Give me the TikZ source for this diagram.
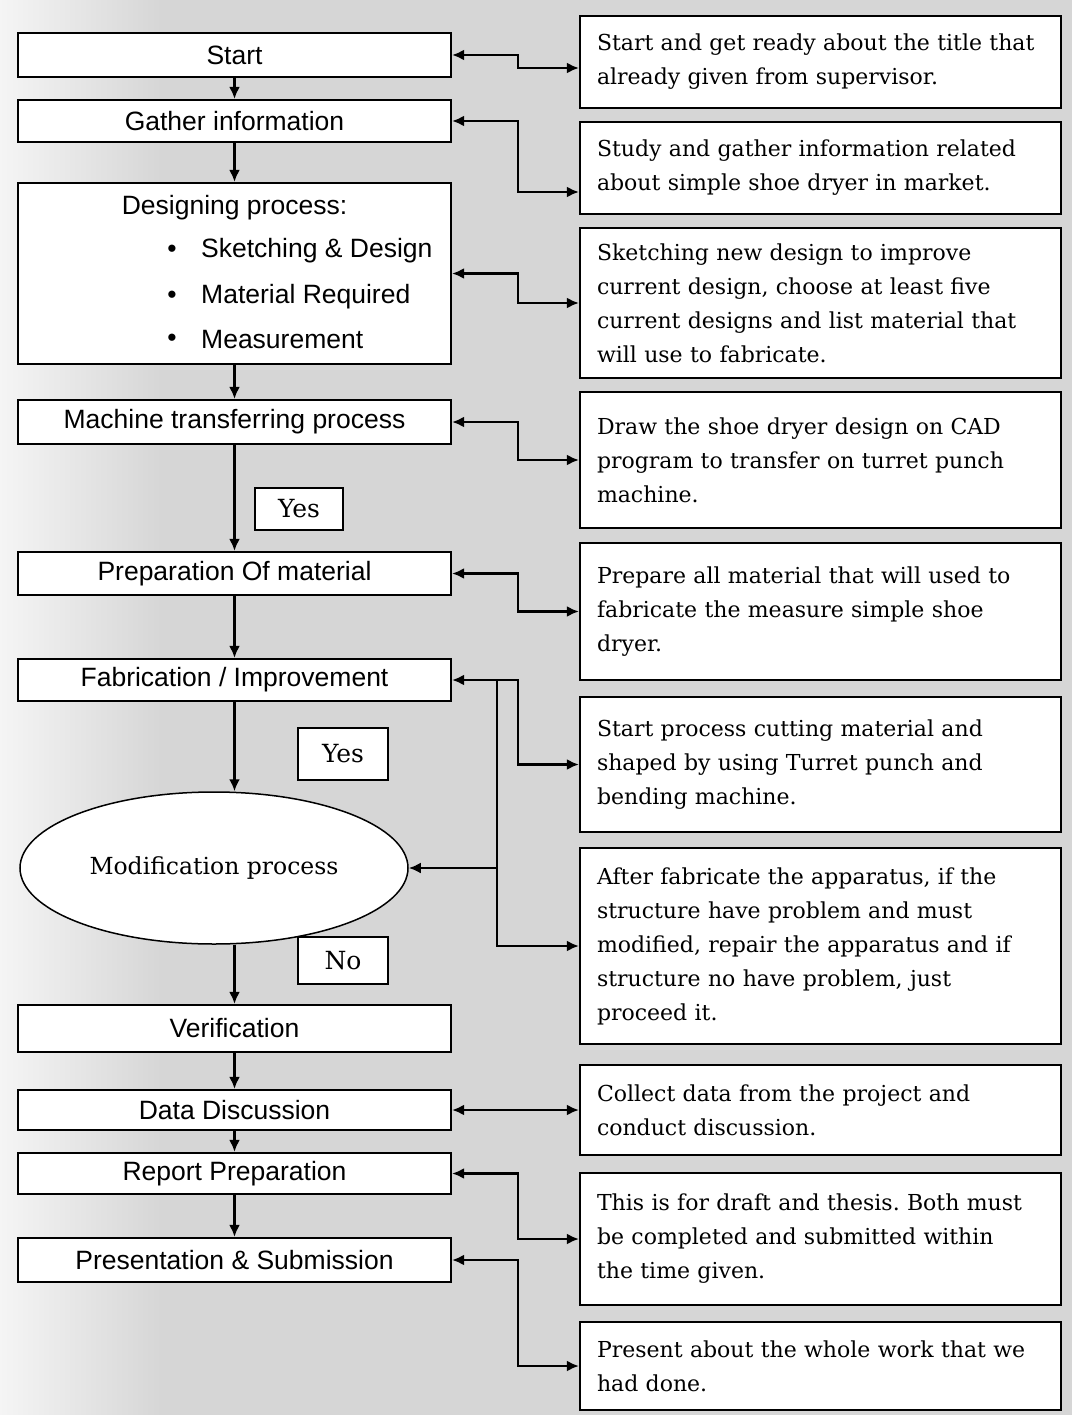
\documentclass[tikz,border=0pt]{standalone}
\usepackage{fontspec}
\setmainfont{DejaVu Serif}
\setsansfont{Liberation Sans}
\usetikzlibrary{arrows.meta,shapes.geometric,calc}
\frenchspacing
\begin{document}
\begin{tikzpicture}[x=1pt,y=-1pt,
 lbox/.style={draw,line width=2.2pt,fill=white,minimum width=433pt,inner sep=0pt,font=\sffamily\fontsize{26.5}{30}\selectfont},
 rbox/.style={draw,line width=2.2pt,fill=white,text width=447pt,inner xsep=17pt,inner ysep=0pt,align=left,font=\fontsize{22}{34}\selectfont},
 lab/.style={draw,line width=2.2pt,fill=white,inner sep=0pt,font=\fontsize{25}{28}\selectfont},
 stxt/.style={inner sep=0pt,font=\sffamily\fontsize{26.5}{30}\selectfont},
 flow/.style={line width=2.5pt,-{Latex[length=12pt,width=11pt]}},
 link/.style={line width=2.5pt,{Latex[length=12pt,width=11pt]}-{Latex[length=12pt,width=11pt]}},
 tip/.style={line width=2.5pt,-{Latex[length=12pt,width=11pt]}},
]
\useasboundingbox (0,0) rectangle (1072,1415);
\fill[gray!32] (0,0) rectangle (1072,1415);
\shade[left color=gray!8,right color=gray!32] (0,0) rectangle (160,1415);

% left column
\node[lbox,minimum height=44pt] (start) at (234.5,55) {Start};
\node[lbox,minimum height=42pt] (gat) at (234.5,121) {Gather information};
\node[lbox,minimum height=181pt] (des) at (234.5,273.5) {};
\node[stxt] (destitle) at (234.5,208) {Designing process:};
\node[stxt] (bul1) at (172,251) {•};
\node[stxt] (bul2) at (172,297) {•};
\node[stxt] (bul3) at (172,340) {•};
\node[stxt,anchor=west] (it1) at (201,251) {Sketching \& Design};
\node[stxt,anchor=west] (it2) at (201,297) {Material Required};
\node[stxt,anchor=west] (it3) at (201,340) {Measurement};
\node[lbox,minimum height=44pt] (mac) at (234.5,422) {Machine transferring process};
\node[lab,minimum width=88pt,minimum height=42pt] (yes1) at (299,509) {Yes};
\node[lbox,minimum height=43pt] (prep) at (234.5,573.5) {Preparation Of material};
\node[lbox,minimum height=42pt] (fab) at (234.5,680) {Fabrication / Improvement};
\node[lab,minimum width=90pt,minimum height=52pt] (yes2) at (343,754) {Yes};
\node[ellipse,draw,line width=1.5pt,fill=white,minimum width=388pt,minimum height=152pt,inner sep=0pt,font=\fontsize{23.5}{28}\selectfont] (mod) at (214,868) {Modification process};
\node[lab,minimum width=90pt,minimum height=47pt] (no) at (343,960.5) {No};
\node[lbox,minimum height=47pt] (ver) at (234.5,1028.5) {Verification};
\node[lbox,minimum height=40pt] (data) at (234.5,1110) {Data Discussion};
\node[lbox,minimum height=41pt] (rep) at (234.5,1173.5) {Report Preparation};
\node[lbox,minimum height=44pt] (pres) at (234.5,1260) {Presentation \& Submission};

% right column
\node[rbox,minimum height=92pt] (r1) at (820.5,62) {Start and get ready about the title that\\ already given from supervisor.};
\node[rbox,minimum height=92pt] (r2) at (820.5,168) {Study and gather information related\\ about simple shoe dryer in market.};
\node[rbox,minimum height=150pt] (r3) at (820.5,303) {Sketching new design to improve\\ current design, choose at least five\\ current designs and list material that\\ will use to fabricate.};
\node[rbox,minimum height=136pt] (r4) at (820.5,460) {Draw the shoe dryer design on CAD\\ program to transfer on turret punch\\ machine.};
\node[rbox,minimum height=137pt] (r5) at (820.5,611.5) {Prepare all material that will used to\\ fabricate the measure simple shoe\\ dryer.};
\node[rbox,minimum height=135pt] (r6) at (820.5,764.5) {Start process cutting material and\\ shaped by using Turret punch and\\ bending machine.};
\node[rbox,minimum height=196pt] (r7) at (820.5,946) {After fabricate the apparatus, if the\\ structure have problem and must\\ modified, repair the apparatus and if\\ structure no have problem, just\\ proceed it.};
\node[rbox,minimum height=90pt] (r8) at (820.5,1110) {Collect data from the project and\\ conduct discussion.};
\node[rbox,minimum height=132pt] (r9) at (820.5,1239) {This is for draft and thesis. Both must\\ be completed and submitted within\\ the time given.};
\node[rbox,minimum height=88pt] (r10) at (820.5,1366) {Present about the whole work that we\\ had done.};

% flow arrows
\draw[flow] (start.south) -- (gat.north);
\draw[flow] (gat.south) -- (des.north);
\draw[flow] (des.south) -- (mac.north);
\draw[flow] (mac.south) -- (prep.north);
\draw[flow] (prep.south) -- (fab.north);
\draw[flow] (fab.south) -- (fab.south |- mod.north);
\draw[flow] (ver.north |- mod.south) -- (ver.north);
\draw[flow] (ver.south) -- (data.north);
\draw[flow] (data.south) -- (rep.north);
\draw[flow] (rep.south) -- (pres.north);

% links to descriptions
\coordinate (ex) at (518,0);
\coordinate (ey) at (497,0);
\draw[link] (start.east) -- (start.east -| ex) |- ([yshift=-6pt]r1.west);
\draw[link] (gat.east) -- (gat.east -| ex) |- ([yshift=-24pt]r2.west);
\draw[link] (des.east) -- (des.east -| ex) |- (r3.west);
\draw[link] (mac.east) -- (mac.east -| ex) |- (r4.west);
\draw[link] (prep.east) -- (prep.east -| ex) |- (r5.west);
\draw[tip] (fab.east -| ey) -- (fab.east);
\draw[tip] (fab.east -| ey) -- (fab.east -| ex) |- (r6.west);
\draw[tip] (fab.east -| ey) |- (r7.west);
\draw[tip] (ey |- mod.east) -- (mod.east);
\draw[link] (data.east) -- (r8.west);
\draw[link] (rep.east) -- (rep.east -| ex) |- (r9.west);
\draw[link] (pres.east) -- (pres.east -| ex) |- (r10.west);
\end{tikzpicture}
\end{document}
